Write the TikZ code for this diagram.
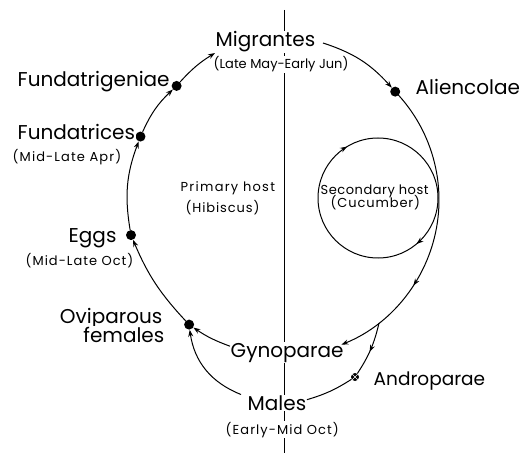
\documentclass[tikz,border=0pt]{standalone}
\usepackage{fontspec}
\setmainfont{Poppins}
\usetikzlibrary{arrows.meta,calc,decorations.markings}
\begin{document}
\begin{tikzpicture}[x=1pt,y=1pt,
  line/.style={line width=1pt},
  arr/.style={line width=1pt,-{Stealth[length=7pt,width=5pt]}},
  dotnode/.style={circle,fill=black,inner sep=0pt,minimum size=10pt},
  big/.style={font=\fontsize{20}{22}\selectfont,inner sep=0.5pt,fill=white},
  small/.style={font=\fontsize{13}{15}\selectfont\addfontfeature{LetterSpace=#1},inner sep=0.5pt,fill=white},
  small/.default=0,
  midarrow/.style={postaction={decorate},decoration={markings,mark=at position #1 with {\arrow{Stealth[length=7pt,width=5pt]}}}}
]
\useasboundingbox (0,0) rectangle (530,453);
\coordinate (C) at (283,253);
\coordinate (vtop) at (284,443);
\coordinate (vbot) at (284,0);
\draw[line] (vtop) -- (vbot);

% dots
\node[dotnode] (fg) at ($(C)+(133:156)$) {};
\node[dotnode] (fc) at ($(C)+(156:156)$) {};
\node[dotnode] (eg) at ($(C)+(193:156)$) {};
\node[dotnode] (ov) at ($(C)+(233:156)$) {};
\node[dotnode] (al) at ($(C)+(44:156)$) {};
\node[circle,fill=black,inner sep=0pt,minimum size=8pt,
  path picture={\draw[white,line width=0.5pt] (path picture bounding box.south west) -- (path picture bounding box.north east) (path picture bounding box.north west) -- (path picture bounding box.south east);}] (an) at (355,76) {};

% labels
\node[big,anchor=base west] (migr) at (215,406) {Migrantes};
\node[small=0,anchor=base west] (migrd) at (213,384) {(Late May-Early Jun)};
\node[big,anchor=base west] (fgt) at (17,366) {Fundatrigeniae};
\node[big,anchor=base west] (fct) at (17,313) {Fundatrices};
\node[small=8.5,anchor=base west] (fcd) at (12,291) {(Mid-Late Apr)};
\node[small=9.8,anchor=base west] (prim) at (180,261) {Primary host};
\node[small=6.8,anchor=base west] (hib) at (185,240) {(Hibiscus)};
\node[big,anchor=base west] (egt) at (68,211) {Eggs};
\node[small=7.7,anchor=base west] (egd) at (25,188) {(Mid-Late Oct)};
\node[big,anchor=base east] (ovt1) at (163,130) {Oviparous};
\node[big,anchor=base east] (ovt2) at (165,111) {females};
\node[big,anchor=base west] (gyn) at (230,96) {Gynoparae};
\node[big,anchor=base west] (males) at (247,43) {Males};
\node[small=8.2,anchor=base west] (mald) at (225,19) {(Early-Mid Oct)};
\node[big,anchor=base west,font=\fontsize{18.5}{20}\selectfont] (ant) at (373,68) {Androparae};
\node[big,anchor=base west] (alt) at (415,358) {Aliencolae};
\node[small=4,anchor=base west,fill=none] (sec) at (320,258) {Secondary host};
\node[small=6.8,anchor=base west,fill=none] (cuc) at (330,245) {(Cucumber)};

% cycle connectors
\coordinate (migin) at (215,400);
\coordinate (migout) at (323,410);
\coordinate (br) at ($(C)+(-52:156)$);
\draw[arr] (fc) to[bend left=11] (fg);
\draw[arr] (fg) to[bend left=8] (migin);
\draw[arr] (migout) to[bend left=15] (al);
\draw[arr,midarrow=0.69] (al.center) arc[start angle=44,end angle=-68,radius=156];
\draw[line,midarrow=0.55] (br) to[bend left=10] (an);
\draw[line] (an) to[bend left=8] ([yshift=3pt]males.east);
\draw[arr] ([yshift=-4pt]gyn.north west) to[bend left=7] (ov);
\draw[arr] ([xshift=-6pt]males.north west) to[bend left=30] (ov);
\draw[arr] (ov) to[bend left=10] (eg);
\draw[arr] (eg) to[bend left=15] (fc);

% secondary host cycle
\coordinate (sL) at (318,255);
\draw[line,postaction={decorate},decoration={markings,
  mark=at position 0.164 with {\arrow{Stealth[length=7pt,width=5pt]}},
  mark=at position 0.639 with {\arrow{Stealth[length=7pt,width=5pt]}}}]
  (sL) arc[start angle=180,end angle=-180,radius=60];
\end{tikzpicture}
\end{document}
